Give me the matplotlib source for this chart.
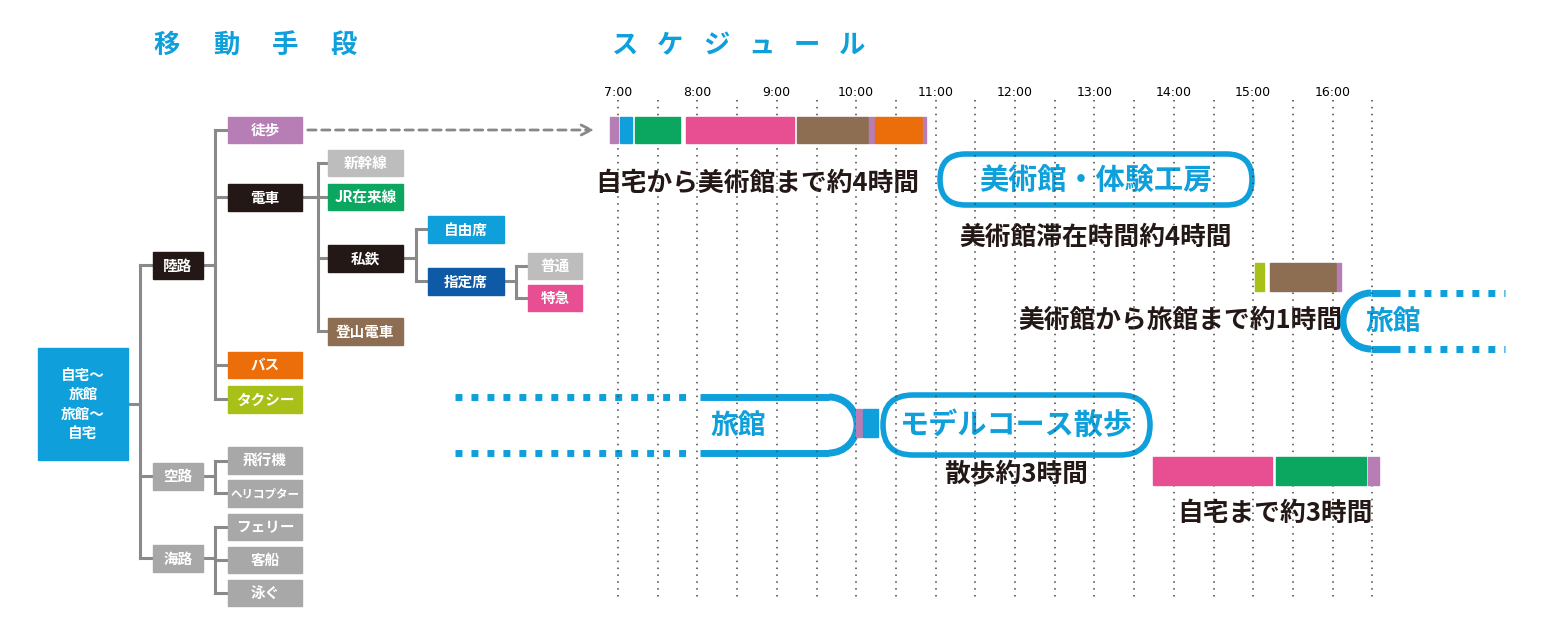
import matplotlib
matplotlib.use("Agg")
import matplotlib.pyplot as plt
from matplotlib.patches import FancyBboxPatch, Rectangle, Arc

plt.rcParams["font.family"] = ["Noto Sans CJK JP", "DejaVu Sans"]

BLUE = "#0FA0DC"; PURPLE = "#B77DB5"; GREEN = "#0BA760"; PINK = "#E84F92"
BROWN = "#8E6E52"; ORANGE = "#EB6E0A"; YG = "#A8C018"; BLACK = "#231815"
GRAY = "#A8A8A8"; LGRAY = "#BDBDBD"; DBLUE = "#0E5AA7"

# ---- data ----
hours = list(range(7, 17))
hour_labels = [f"{h}:00" for h in hours]
half_hours = [h + 0.5 for h in range(6, 17)]

trip1_start = [6.90, 7.025, 7.214, 7.856, 9.254, 10.161, 10.237, 10.841]
trip1_end = [7.00, 7.176, 7.78, 9.217, 10.149, 10.224, 10.829, 10.879]
trip1_col = [PURPLE, BLUE, GREEN, PINK, BROWN, PURPLE, ORANGE, PURPLE]

trip2_start = [15.02, 15.21, 16.055]
trip2_end = [15.14, 16.04, 16.106]
trip2_col = [YG, BROWN, PURPLE]

trip3_start = [13.74, 15.29, 16.45]
trip3_end = [15.24, 16.42, 16.58]
trip3_col = [PINK, GREEN, PURPLE]

walk_start = [10.00, 10.08]
walk_end = [10.07, 10.28]
walk_col = [PURPLE, BLUE]

nodes = [  # label, x0, y0, w, h, color, textcolor
    ("自宅〜\n旅館\n旅館〜\n自宅", 38, 348, 90, 112, BLUE, "white"),
    ("陸路", 153, 252, 50, 27, BLACK, "white"),
    ("空路", 153, 463, 50, 27, GRAY, "white"),
    ("海路", 153, 545, 50, 27, GRAY, "white"),
    ("徒歩", 228, 117, 74, 26, PURPLE, "white"),
    ("電車", 228, 184, 74, 27, BLACK, "white"),
    ("バス", 228, 352, 74, 26, ORANGE, "white"),
    ("タクシー", 228, 386, 74, 27, YG, "white"),
    ("飛行機", 228, 447, 74, 27, GRAY, "white"),
    ("ヘリコプター", 228, 480, 74, 27, GRAY, "white"),
    ("フェリー", 228, 514, 74, 26, GRAY, "white"),
    ("客船", 228, 547, 74, 26, GRAY, "white"),
    ("泳ぐ", 228, 580, 74, 26, GRAY, "white"),
    ("新幹線", 328, 150, 75, 26, LGRAY, "white"),
    ("JR在来線", 328, 184, 75, 26, GREEN, "white"),
    ("私鉄", 328, 245, 75, 27, BLACK, "white"),
    ("登山電車", 328, 318, 75, 27, BROWN, "white"),
    ("自由席", 428, 216, 76, 27, BLUE, "white"),
    ("指定席", 428, 268, 76, 27, DBLUE, "white"),
    ("普通", 528, 253, 54, 26, LGRAY, "white"),
    ("特急", 528, 285, 54, 26, PINK, "white"),
]

# connectors: (x_from, x_mid, x_to, y_parent, [child ys])
trees = [
    (128, 140, 153, 404, [265, 476, 558]),
    (203, 215, 228, 265, [130, 197, 365, 399]),
    (203, 215, 228, 476, [461, 493]),
    (203, 215, 228, 558, [527, 560, 593]),
    (302, 318, 328, 197, [163, 197, 258, 331]),
    (403, 416, 428, 258, [229, 281]),
    (504, 516, 528, 281, [266, 298]),
]

title1 = "移動手段"
title2 = "スケジュール"

fig = plt.figure(figsize=(15.46, 6.36), dpi=100)
ax = fig.add_axes([0, 0, 1, 1])
ax.set_xlim(0, 1546); ax.set_ylim(636, 0); ax.axis("off")

# time axes overlay: 7:00 at 618px, 79.4 px/hour
ppx = 79.4
axt = fig.add_axes([0, 0, 1, 1], sharey=ax)
axt.set_xlim(7 - 618 / ppx, 7 + (1546 - 618) / ppx)
axt.axis("off"); axt.patch.set_alpha(0)

for h in hours + half_hours:
    if h < 6.9:
        continue
    axt.plot([h, h], [100, 600], color="#444444", lw=1.1, ls=(0, (1, 3.5)), zorder=0)
for h, lab in zip(hours, hour_labels):
    axt.text(h, 93, lab, ha="center", va="center", fontsize=9, family="DejaVu Sans")

def bars(starts, ends, cols, y0, hgt):
    for s, e, c in zip(starts, ends, cols):
        axt.add_patch(Rectangle((s, y0), e - s, hgt, color=c, zorder=2))

bars(trip1_start, trip1_end, trip1_col, 117, 26)
bars(trip2_start, trip2_end, trip2_col, 263, 28)
bars(trip3_start, trip3_end, trip3_col, 457, 28)
bars(walk_start, walk_end, walk_col, 409, 28)

# tree
for x0, xm, x1, yp, ys in trees:
    lc = "#8A8A8A"
    ax.plot([x0, xm], [yp, yp], color=lc, lw=2.2, zorder=1)
    ax.plot([xm, xm], [min(ys + [yp]), max(ys + [yp])], color=lc, lw=2.2, zorder=1)
    for y in ys:
        ax.plot([xm, x1], [y, y], color=lc, lw=2.2, zorder=1)

for lab, x0, y0, w, h, c, tc in nodes:
    ax.add_patch(Rectangle((x0, y0), w, h, color=c, zorder=2))
    fs = 8.3 if len(lab) > 5 and "\n" not in lab else 10.5
    ax.text(x0 + w / 2, y0 + h / 2, lab, ha="center", va="center", color=tc,
            fontsize=fs, fontweight="bold", zorder=3, linespacing=1.25)

# titles (letter-spaced)
for i, ch in enumerate(title1):
    ax.text(167 + i * 59, 45, ch, ha="center", va="center", color=BLUE, fontsize=19, fontweight="heavy")
for i, ch in enumerate(title2):
    ax.text(625 + i * 45.5, 45, ch, ha="center", va="center", color=BLUE, fontsize=19, fontweight="heavy")

# dashed arrow
ax.annotate("", xy=(597, 130), xytext=(305, 130),
            arrowprops=dict(arrowstyle="->", color="#888888", lw=2, ls=(0, (3, 2)),
                            mutation_scale=18))

def capsule(x0, y0, w, h, txt):
    ax.add_patch(FancyBboxPatch((x0, y0), w, h, boxstyle=f"round,pad=0,rounding_size={h/2}",
                                fc="white", ec=BLUE, lw=4, zorder=2))
    ax.text(x0 + w / 2, y0 + h / 2, txt, ha="center", va="center", color=BLUE,
            fontsize=21, fontweight="bold", zorder=3)

capsule(940, 154, 312, 51, "美術館・体験工房")
capsule(883, 395, 267, 60, "モデルコース散歩")

# right open capsule
r = 28
ax.add_patch(Arc((1371, 321), 2 * r, 2 * r, theta1=90, theta2=270, color=BLUE, lw=5, zorder=2))
for y in (293, 349):
    ax.plot([1371, 1400], [y, y], color=BLUE, lw=5, solid_capstyle="butt")
    ax.plot([1408, 1505], [y, y], color=BLUE, lw=5, ls=(0, (1, 1.3)), dash_capstyle="butt")
ax.text(1393, 322, "旅館", ha="center", va="center", color=BLUE, fontsize=20, fontweight="bold")

# left open capsule
ax.add_patch(Arc((829, 425), 2 * r, 2 * r, theta1=-90, theta2=90, color=BLUE, lw=5, zorder=2))
for y in (397, 453):
    ax.plot([700, 829], [y, y], color=BLUE, lw=5, solid_capstyle="butt")
    ax.plot([455, 693], [y, y], color=BLUE, lw=5, ls=(0, (1, 1.3)), dash_capstyle="butt")
ax.text(738, 426, "旅館", ha="center", va="center", color=BLUE, fontsize=20, fontweight="bold")

for x, y, t in [(757, 183, "自宅から美術館まで約4時間"), (1096, 237, "美術館滞在時間約4時間"),
                (1180, 320, "美術館から旅館まで約1時間"), (1016, 475, "散歩約3時間"),
                (1275, 513, "自宅まで約3時間")]:
    ax.text(x, y, t, ha="center", va="center", color=BLACK, fontsize=18.5, fontweight="bold")

fig.savefig("out.png", dpi=100)
